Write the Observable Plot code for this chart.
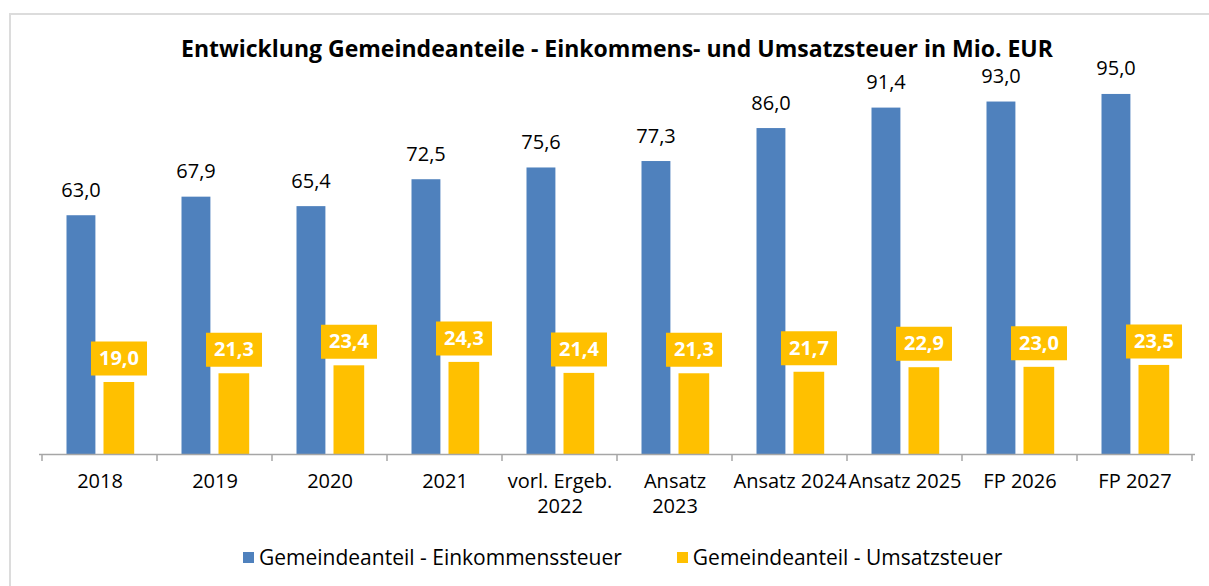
<!DOCTYPE html>
<html>
<head>
<meta charset="utf-8">
<script src="https://cdn.jsdelivr.net/npm/d3@7"></script>
<script src="https://cdn.jsdelivr.net/npm/@observablehq/plot@0.6"></script>
<style>
  html, body { margin: 0; padding: 0; background: #fff; width: 1209px; height: 586px; overflow: hidden; }
  body { position: relative; font-family: "Open Sans", "Noto Sans", sans-serif; color: #000; }
  #frame { position: absolute; left: 9px; top: 13px; width: 1400px; height: 800px;
           border-top: 2px solid #dcdcdc; border-left: 2px solid #dcdcdc; }
  #title { position: absolute; left: 0; width: 1234px; top: 33px; text-align: center;
           font-weight: 700; font-size: 23px; line-height: 30px; }
  #chart { position: absolute; left: 0; top: 63px; }
  #legend { position: absolute; left: 243px; top: 543px; display: flex; align-items: center;
            font-size: 21px; line-height: 28px; }
  .sw { display: inline-block; width: 11px; height: 11px; margin-right: 5px; }
  .item { display: flex; align-items: center; }
</style>
</head>
<body>
<div id="frame"></div>
<div id="title">Entwicklung Gemeindeanteile - Einkommens- und Umsatzsteuer in Mio. EUR</div>
<div id="chart"></div>
<div id="legend"></div>
<script>
const categories = ["2018", "2019", "2020", "2021", "vorl. Ergeb.\n2022", "Ansatz\n2023", "Ansatz 2024", "Ansatz 2025", "FP 2026", "FP 2027"];
const einkommensteuer = [63.0, 67.9, 65.4, 72.5, 75.6, 77.3, 86.0, 91.4, 93.0, 95.0];
const umsatzsteuer = [19.0, 21.3, 23.4, 24.3, 21.4, 21.3, 21.7, 22.9, 23.0, 23.5];
const seriesNames = ["Gemeindeanteil - Einkommenssteuer", "Gemeindeanteil - Umsatzsteuer"];
const colors = ["#4F81BD", "#FFC000"];

const fmt = v => v.toFixed(1).replace(".", ",");
const dataE = categories.map((c, i) => ({cat: c, value: einkommensteuer[i]}));
const dataU = categories.map((c, i) => ({cat: c, value: umsatzsteuer[i]}));

const fontFam = '"Open Sans", "Noto Sans", sans-serif';

// label box symbol (fixed size rectangle)
const boxSymbol = { draw(ctx) { ctx.rect(-28, -17, 56, 34); } };

// boundary ticks drawn with the x band scale
function boundaryTicks(index, scales, values, dimensions) {
  const x = scales.x, y = scales.y;
  const g = d3.create("svg:g").attr("stroke", "#a6a6a6").attr("stroke-width", 1.5);
  const y0 = y(0);
  const xs = categories.map(c => x(c));
  xs.push(x(categories[categories.length - 1]) + x.bandwidth());
  for (const px of xs) {
    g.append("line").attr("x1", px).attr("x2", px).attr("y1", y0).attr("y2", y0 + 7);
  }
  return g.node();
}

const plot = Plot.plot({
  width: 1209,
  height: 470,
  marginLeft: 39,
  marginRight: 14,
  marginTop: 12,
  marginBottom: 79,
  style: { fontFamily: fontFam, fontSize: "20px", color: "#000", background: "transparent", overflow: "visible" },
  x: { domain: categories, padding: 0, label: null },
  y: { domain: [0, 100], axis: null },
  marks: [
    Plot.barY(dataE, { x: "cat", y: "value", fill: colors[0], insetLeft: 24.5, insetRight: 61.6 }),
    Plot.barY(dataU, { x: "cat", y: "value", fill: colors[1], insetLeft: 61.5, insetRight: 22.8 }),
    Plot.ruleY([0], { stroke: "#a6a6a6", strokeWidth: 1.5 }),
    boundaryTicks,
    Plot.axisX({ tickSize: 0, tickPadding: 16, fontSize: 20, lineHeight: 1.25, label: null, textAnchor: "middle" }),
    Plot.text(dataE, { x: "cat", y: "value", text: d => fmt(d.value), dx: -19, dy: -19, lineAnchor: "bottom", fill: "#000", fontSize: 20 }),
    Plot.dot(dataU, { x: "cat", y: "value", symbol: boxSymbol, r: 10, dx: 19, dy: -24, fill: colors[1], stroke: null }),
    Plot.text(dataU, { x: "cat", y: "value", text: d => fmt(d.value), dx: 19, dy: -24, lineAnchor: "middle", fill: "#fff", fontSize: 20, fontWeight: 700 })
  ]
});
document.getElementById("chart").appendChild(plot);

const legend = d3.select("#legend");
seriesNames.forEach((name, i) => {
  const it = legend.append("div").attr("class", "item").style("margin-right", i === 0 ? "55px" : "0");
  it.append("span").attr("class", "sw").style("background", colors[i]);
  it.append("span").text(name);
});
</script>
</body>
</html>
